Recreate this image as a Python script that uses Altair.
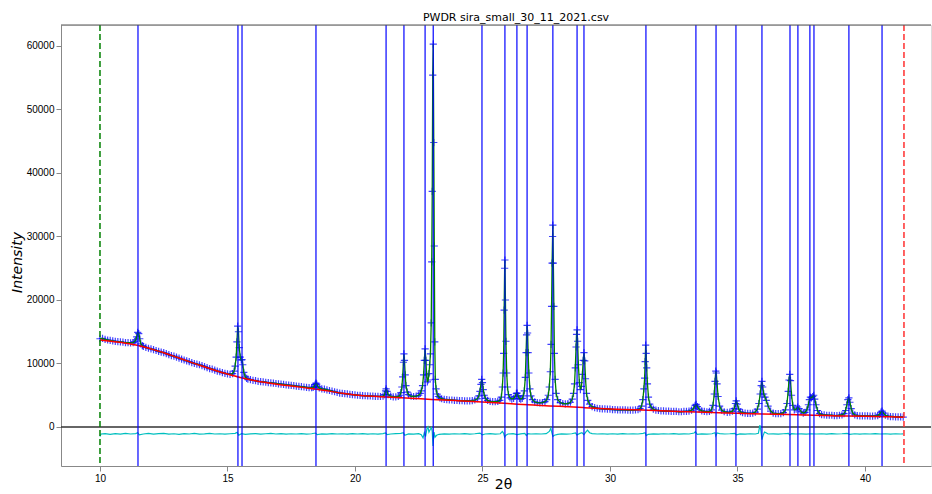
import altair as alt
import pandas as pd

# ---- reflection (tick mark) positions, 2-theta ----
refl_pos = [11.49, 15.41, 15.57, 18.47, 21.22, 21.92, 22.75, 23.07, 24.98, 25.88,
            26.35, 26.75, 27.76, 28.71, 28.98, 31.41, 33.37, 34.16, 34.94, 35.96,
            37.06, 37.37, 37.84, 38.00, 39.37, 40.67]

limit_low = 10.0
limit_high = 41.53

# ---- observed pattern (2theta, intensity) ----
obs_a = [(10.0, 13900), (10.1, 13950), (10.2, 13800), (10.3, 13700), (10.4, 13650), (10.5, 13550),
         (10.6, 13500), (10.7, 13450), (10.8, 13400), (10.9, 13350), (11.0, 13300), (11.1, 13300),
         (11.2, 13250), (11.3, 13300), (11.36, 13450), (11.4, 13700), (11.44, 14200), (11.48, 14900),
         (11.52, 14700), (11.56, 13900), (11.6, 13100), (11.66, 12800), (11.7, 12700), (11.8, 12550),
         (11.9, 12400), (12.0, 12300), (12.1, 12200), (12.2, 12050), (12.3, 11900), (12.4, 11800),
         (12.5, 11700), (12.6, 11550), (12.7, 11400), (12.8, 11250), (12.9, 11150), (13.0, 11000),
         (13.1, 10850), (13.2, 10700), (13.3, 10550), (13.4, 10400), (13.5, 10300), (13.6, 10150),
         (13.7, 10000), (13.8, 9900), (13.9, 9800), (14.0, 9650), (14.1, 9500), (14.2, 9350),
         (14.3, 9200), (14.4, 9100), (14.5, 8950), (14.6, 8800), (14.7, 8700), (14.8, 8550),
         (14.9, 8450), (15.0, 8350), (15.1, 8300), (15.2, 8400), (15.26, 8800), (15.3, 9600),
         (15.34, 11000), (15.37, 13400), (15.4, 15900), (15.43, 15000), (15.46, 12500), (15.5, 11000),
         (15.54, 10550), (15.57, 10600), (15.6, 9800), (15.64, 8600), (15.7, 7900), (15.75, 7650),
         (15.8, 7550), (15.9, 7450), (16.0, 7350)]
obs_b = [(16.1, 7300), (16.2, 7200), (16.3, 7150), (16.4, 7100), (16.5, 7050), (16.6, 7000),
         (16.7, 6950), (16.8, 6900), (16.9, 6850), (17.0, 6800), (17.1, 6750), (17.2, 6700),
         (17.3, 6650), (17.4, 6600), (17.5, 6550), (17.6, 6500), (17.7, 6450), (17.8, 6400),
         (17.9, 6350), (18.0, 6300), (18.1, 6250), (18.2, 6200), (18.3, 6200), (18.36, 6250),
         (18.4, 6400), (18.44, 6700), (18.47, 6900), (18.5, 6750), (18.54, 6400), (18.6, 6150),
         (18.7, 6000), (18.8, 5950), (18.9, 5850), (19.0, 5750), (19.1, 5650), (19.2, 5550),
         (19.3, 5450), (19.4, 5350), (19.5, 5300), (19.6, 5250), (19.7, 5200), (19.8, 5150),
         (19.9, 5100), (20.0, 5050), (20.1, 5000), (20.2, 4980), (20.3, 4950), (20.4, 4920),
         (20.5, 4900), (20.6, 4880), (20.7, 4850), (20.8, 4830), (20.9, 4820), (21.0, 4800),
         (21.1, 4850), (21.16, 5100), (21.2, 5700), (21.22, 6000), (21.26, 5600), (21.3, 5100),
         (21.4, 4850), (21.5, 4750), (21.6, 4750), (21.7, 4800), (21.76, 5000), (21.8, 5400),
         (21.84, 6300), (21.87, 7900), (21.9, 10200), (21.92, 11500), (21.94, 10500), (21.97, 8200),
         (22.0, 6500), (22.05, 5500), (22.1, 5100), (22.2, 4850), (22.3, 4800), (22.4, 4850),
         (22.5, 5000), (22.56, 5300), (22.6, 5700), (22.65, 6500), (22.69, 8200), (22.72, 10500),
         (22.75, 12300), (22.78, 10500), (22.81, 8200), (22.84, 7100), (22.87, 7400), (22.9, 8400),
         (22.93, 9800), (22.96, 11500), (22.99, 16400), (23.01, 26000), (23.03, 37100), (23.05, 55400),
         (23.07, 60300), (23.09, 44800), (23.11, 28500), (23.13, 13400), (23.15, 7500), (23.18, 6000),
         (23.22, 5200), (23.27, 4800), (23.33, 4600), (23.4, 4450), (23.5, 4350), (23.6, 4300)]
obs_c = [(23.7, 4250), (23.8, 4250), (23.9, 4200), (24.0, 4200), (24.1, 4150), (24.2, 4150),
         (24.3, 4100), (24.4, 4100), (24.5, 4100), (24.6, 4150), (24.7, 4250), (24.8, 4450),
         (24.86, 4900), (24.9, 5600), (24.94, 6700), (24.97, 7500), (25.0, 7000), (25.03, 5900),
         (25.07, 5000), (25.12, 4500), (25.2, 4200), (25.3, 4050), (25.4, 4000), (25.5, 4000),
         (25.6, 4050), (25.68, 4200), (25.74, 4700), (25.78, 6300), (25.81, 8500), (25.83, 11600),
         (25.85, 18400), (25.87, 25000), (25.88, 26300), (25.9, 20000), (25.92, 13500), (25.95, 8500),
         (25.98, 6300), (26.02, 5100), (26.08, 4600), (26.15, 4400), (26.22, 4500), (26.28, 4800),
         (26.33, 5300), (26.36, 5350), (26.4, 4900), (26.45, 4500), (26.5, 4400), (26.56, 4500),
         (26.6, 4900), (26.64, 5700), (26.68, 7800), (26.71, 11700), (26.73, 14500), (26.75, 16000),
         (26.77, 14800), (26.79, 11700), (26.82, 8500), (26.86, 6000), (26.9, 4900), (26.96, 4300),
         (27.05, 3950), (27.15, 3850), (27.25, 3800), (27.35, 3850), (27.45, 4000), (27.52, 4300),
         (27.58, 5000), (27.62, 6300), (27.66, 8700), (27.69, 13000), (27.71, 19000), (27.73, 25800),
         (27.75, 30000), (27.76, 31800), (27.78, 25800), (27.8, 19000), (27.82, 11600), (27.85, 7500),
         (27.89, 5300), (27.95, 4300), (28.05, 3850), (28.15, 3700), (28.25, 3650), (28.35, 3700),
         (28.45, 3900), (28.52, 4400), (28.57, 5300), (28.61, 6800), (28.64, 9300), (28.67, 12600),
         (28.69, 14600), (28.71, 15300), (28.73, 13500), (28.76, 9800), (28.8, 7000), (28.84, 5900),
         (28.88, 6400), (28.92, 8300), (28.95, 10500), (28.98, 11700), (29.01, 10400), (29.04, 7600),
         (29.08, 5300), (29.13, 4200), (29.2, 3600), (29.3, 3200), (29.4, 3050), (29.5, 2950)]
obs_d = [(29.6, 2900), (29.7, 2850), (29.8, 2850), (29.9, 2800), (30.0, 2800), (30.1, 2750),
         (30.2, 2750), (30.3, 2700), (30.4, 2700), (30.5, 2700), (30.6, 2700), (30.7, 2650),
         (30.8, 2650), (30.9, 2650), (31.0, 2700), (31.1, 2750), (31.18, 2900), (31.24, 3300),
         (31.29, 4300), (31.33, 6000), (31.36, 7700), (31.38, 10300), (31.4, 12900), (31.42, 11600),
         (31.44, 9300), (31.47, 6800), (31.51, 4700), (31.56, 3600), (31.62, 3100), (31.7, 2800),
         (31.8, 2650), (31.9, 2600), (32.0, 2550), (32.1, 2550), (32.2, 2500), (32.3, 2500),
         (32.4, 2450), (32.5, 2450), (32.6, 2450), (32.7, 2400), (32.8, 2400), (32.9, 2450),
         (33.0, 2450), (33.1, 2500), (33.2, 2650), (33.28, 2950), (33.34, 3400), (33.38, 3550),
         (33.43, 3200), (33.5, 2800), (33.6, 2550), (33.7, 2450), (33.8, 2400), (33.9, 2450),
         (33.98, 2700), (34.04, 3400), (34.09, 5200), (34.12, 7200), (34.15, 8800), (34.17, 8500),
         (34.2, 6800), (34.24, 4800), (34.3, 3300), (34.38, 2650), (34.48, 2400), (34.6, 2300),
         (34.7, 2350), (34.8, 2500), (34.87, 2900), (34.92, 3700), (34.95, 4100), (34.99, 3600),
         (35.05, 2800), (35.12, 2400), (35.2, 2250), (35.3, 2200), (35.4, 2150), (35.5, 2150),
         (35.6, 2200), (35.7, 2350), (35.78, 2800), (35.84, 3700), (35.89, 5200), (35.93, 6500),
         (35.96, 7200), (35.99, 6300), (36.03, 5200), (36.08, 4700), (36.13, 4200), (36.2, 3300),
         (36.3, 2500), (36.4, 2200), (36.5, 2100), (36.6, 2100), (36.7, 2100), (36.8, 2250)]
obs_e = [(36.88, 2700), (36.94, 3700), (36.99, 5600), (37.02, 7400), (37.05, 8300), (37.08, 7300),
         (37.12, 5000), (37.17, 3400), (37.23, 2700), (37.3, 2800), (37.36, 3150), (37.42, 2900),
         (37.5, 2400), (37.58, 2200), (37.65, 2300), (37.72, 2700), (37.78, 3500), (37.82, 4300),
         (37.86, 4700), (37.9, 4600), (37.95, 4800), (37.99, 5000), (38.03, 4400), (38.08, 3500),
         (38.14, 2600), (38.22, 2100), (38.3, 1950), (38.4, 1900), (38.5, 1850), (38.6, 1850),
         (38.7, 1850), (38.8, 1800), (38.9, 1800), (39.0, 1850), (39.1, 1900), (39.18, 2100),
         (39.24, 2600), (39.29, 3500), (39.33, 4300), (39.37, 4600), (39.41, 3900), (39.46, 2900),
         (39.52, 2200), (39.6, 1900), (39.7, 1800), (39.8, 1750), (39.9, 1750), (40.0, 1750),
         (40.1, 1750), (40.2, 1700), (40.3, 1700), (40.4, 1750), (40.5, 1800), (40.57, 2000),
         (40.63, 2350), (40.67, 2500), (40.72, 2200), (40.8, 1850), (40.9, 1700), (41.0, 1650),
         (41.1, 1650), (41.2, 1600), (41.3, 1600), (41.4, 1600), (41.5, 1550)]

# ---- refined background ----
background = [(10.0, 13700), (10.5, 13450), (11.0, 13200), (11.5, 12850), (12.0, 12300),
              (12.5, 11700), (13.0, 11000), (13.5, 10300), (14.0, 9600), (14.5, 8950),
              (15.0, 8350), (15.5, 7800), (16.0, 7350), (16.5, 7000), (17.0, 6700),
              (17.5, 6450), (18.0, 6200), (18.5, 5950), (19.0, 5650), (19.5, 5300),
              (20.0, 5050), (21.0, 4780), (22.0, 4550), (23.0, 4350), (24.0, 4150),
              (25.0, 3950), (26.0, 3700), (27.0, 3450), (28.0, 3250), (29.0, 3050),
              (30.0, 2850), (31.0, 2700), (32.0, 2550), (33.0, 2400), (34.0, 2300),
              (35.0, 2150), (36.0, 2050), (37.0, 1950), (38.0, 1850), (39.0, 1750),
              (40.0, 1700), (41.0, 1600), (41.5, 1550)]

# ---- difference curve (obs - calc, offset) ----
difference = [(10.0, -1500), (10.04, -1100), (10.2, -1050), (10.4, -1150), (10.6, -1050), (10.8, -1120),
              (11.0, -1000), (11.2, -1100), (11.4, -1050), (11.48, -900), (11.54, -1250), (11.7, -1100),
              (11.9, -1020), (12.1, -1120), (12.3, -1050), (12.5, -1000), (12.7, -1120), (12.9, -1060),
              (13.1, -1150), (13.3, -1050), (13.5, -1100), (13.7, -1020), (13.9, -1120), (14.1, -1080),
              (14.3, -1000), (14.5, -1100), (14.7, -1060), (14.9, -1120), (15.1, -1060), (15.3, -1000),
              (15.38, -850), (15.44, -1300), (15.55, -1050), (15.7, -1150), (15.9, -1080), (16.1, -1040),
              (16.3, -1120), (16.5, -1060), (16.7, -1000), (16.9, -1100), (17.1, -1050), (17.3, -1130),
              (17.5, -1060), (17.7, -1100), (17.9, -1040), (18.1, -1110), (18.3, -1060), (18.45, -950),
              (18.52, -1200), (18.7, -1080), (18.9, -1120), (19.1, -1040), (19.3, -1100), (19.5, -1060),
              (19.7, -1120), (19.9, -1050), (20.1, -1100), (20.3, -1030), (20.5, -1110), (20.7, -1060),
              (20.9, -1120), (21.1, -1040), (21.2, -950), (21.26, -1200), (21.4, -1100), (21.6, -1050),
              (21.8, -1000), (21.9, -900), (21.95, -1300), (22.1, -1080), (22.3, -1120), (22.5, -1050),
              (22.6, -1200), (22.67, -1700), (22.72, -900), (22.77, -1500), (22.82, -300), (22.86, 0),
              (22.9, -800), (22.95, -400), (23.0, -100), (23.03, -700), (23.06, -3000), (23.1, -800),
              (23.14, -1600), (23.2, -1300), (23.3, -1150), (23.5, -1080), (23.7, -1120), (23.9, -1060),
              (24.1, -1100), (24.3, -1040), (24.5, -1110), (24.7, -1060), (24.9, -950), (25.0, -1250),
              (25.1, -1100), (25.3, -1050), (25.5, -1120), (25.7, -1060), (25.78, -700), (25.83, -1000),
              (25.87, -1600), (25.92, -1300), (26.0, -1100), (26.2, -1040), (26.36, -1200), (26.5, -1080),
              (26.66, -1000), (26.72, -1350), (26.78, -1050), (26.9, -1100), (27.1, -1060), (27.3, -1100),
              (27.5, -1050), (27.62, -700), (27.68, -200), (27.72, -900), (27.76, -1500), (27.82, -1300),
              (27.95, -1150), (28.1, -1080), (28.3, -1120), (28.5, -1060), (28.65, -950), (28.7, -1250),
              (28.8, -1050), (28.9, -900), (28.98, -1200), (29.05, -800), (29.12, -500), (29.2, -900),
              (29.3, -1050), (29.5, -1100), (29.7, -1060), (29.9, -1110), (30.1, -1060), (30.3, -1120),
              (30.5, -1050), (30.7, -1100), (30.9, -1060), (31.1, -1100), (31.3, -1000), (31.38, -900),
              (31.42, -1350), (31.5, -1150), (31.7, -1080), (31.9, -1120), (32.1, -1060), (32.3, -1100),
              (32.5, -1050), (32.7, -1120), (32.9, -1070), (33.1, -1100), (33.3, -950), (33.35, -750),
              (33.42, -1150), (33.6, -1080), (33.8, -1120), (34.0, -1060), (34.12, -900), (34.15, -1400),
              (34.2, -950), (34.3, -1050), (34.5, -1100), (34.7, -1060), (34.9, -1000), (34.96, -1250),
              (35.1, -1080), (35.3, -1120), (35.5, -1060), (35.7, -1100), (35.82, -1000), (35.88, 300),
              (35.92, -600), (35.96, -2000), (36.0, -1400), (36.06, -800), (36.12, -900), (36.2, -1100),
              (36.4, -1080), (36.6, -1120), (36.8, -1060), (37.0, -1000), (37.05, -1250), (37.12, -1050),
              (37.3, -1100), (37.5, -1080), (37.7, -1120), (37.9, -1060), (38.1, -1100), (38.3, -1060),
              (38.5, -1120), (38.7, -1050), (38.9, -1100), (39.1, -1060), (39.3, -1000), (39.4, -1150),
              (39.6, -1060), (39.8, -1120), (40.0, -1060), (40.2, -1100), (40.4, -1040), (40.6, -1100),
              (40.8, -1060), (41.0, -1120), (41.2, -1060), (41.4, -1100), (41.5, -1080)]

x_ticks = [10, 15, 20, 25, 30, 35, 40]
y_ticks = [0, 10000, 20000, 30000, 40000, 50000, 60000]

# ---- build tables ----
obs_df = pd.DataFrame(obs_a + obs_b + obs_c + obs_d + obs_e, columns=["tth", "I"])
bg_df = pd.DataFrame(background, columns=["tth", "I"])
diff_df = pd.DataFrame(difference, columns=["tth", "I"])
refl_df = pd.DataFrame({"tth": refl_pos})
lim_df = pd.DataFrame({"tth": [limit_low, limit_high], "kind": ["low", "high"]})
zero_df = pd.DataFrame({"I": [0]})

FONT = "DejaVu Sans"
xscale = alt.Scale(domain=[8.471, 42.59], nice=False, zero=False)
yscale = alt.Scale(domain=[-6142, 63307], nice=False, zero=False)

X = alt.X("tth:Q", scale=xscale,
          axis=alt.Axis(values=x_ticks, title="2θ", grid=False, format="d",
                        titleX=442, titleY=22, titleBaseline="alphabetic",
                        titleFontSize=14, titleFontWeight="normal", titleFont=FONT))
Y = alt.Y("I:Q", scale=yscale,
          axis=alt.Axis(values=y_ticks, title="Intensity", grid=False, format="d",
                        titleX=-44, titleY=237, titleAngle=-90, titleAlign="center",
                        titleBaseline="middle", titleFontSize=14, titleFontStyle="italic",
                        titleFontWeight="normal", titleFont=FONT))

zero = alt.Chart(zero_df).mark_rule(color="#333333", strokeWidth=1.5).encode(
    y=alt.Y("I:Q", scale=yscale))

obs = alt.Chart(obs_df).mark_point(
    shape="M-1,0L1,0M0,-1L0,1", filled=False, color="#0000ff", opacity=0.75,
    size=52, strokeWidth=1.2).encode(x=X, y=Y)

calc = alt.Chart(obs_df).mark_line(color="#008000", strokeWidth=1.3).encode(
    x=alt.X("tth:Q", scale=xscale), y=alt.Y("I:Q", scale=yscale))

bg = alt.Chart(bg_df).mark_line(color="#ff0000", strokeWidth=1.5, interpolate="monotone").encode(
    x=alt.X("tth:Q", scale=xscale), y=alt.Y("I:Q", scale=yscale))

diff = alt.Chart(diff_df).mark_line(color="#00bfbf", strokeWidth=1.2).encode(
    x=alt.X("tth:Q", scale=xscale), y=alt.Y("I:Q", scale=yscale))

refl = alt.Chart(refl_df).mark_rule(color="#0000ff", strokeWidth=1.4, opacity=0.85).encode(
    x=alt.X("tth:Q", scale=xscale))

lims = alt.Chart(lim_df).mark_rule(strokeWidth=1.5, strokeDash=[6, 3]).encode(
    x=alt.X("tth:Q", scale=xscale),
    color=alt.Color("kind:N", scale=alt.Scale(domain=["low", "high"], range=["#008000", "#ff3030"]),
                    legend=None))

top_spine = alt.Chart(zero_df).mark_rule(color="#555555", strokeWidth=1).encode(y=alt.value(0))

chart = alt.layer(zero, obs, calc, bg, diff, refl, lims, top_spine).properties(
    width=870, height=441,
    padding={"left": 61, "top": 25, "right": 1, "bottom": 28},
    autosize=alt.AutoSizeParams(type="none"),
    title=alt.TitleParams("PWDR sira_small_30_11_2021.csv", fontSize=11, font=FONT,
                          fontWeight="normal", anchor="middle", dx=20, offset=1, color="#000000"),
).configure_view(stroke=None).configure_axis(
    domainColor="#555555", tickColor="#555555", labelColor="#000000", labelFont=FONT,
    labelFontSize=8, tickSize=3.5, labelPadding=3, titleColor="#000000"
).configure(background="white")

chart.save("out.html", embed_options={"renderer": "svg", "actions": False})
